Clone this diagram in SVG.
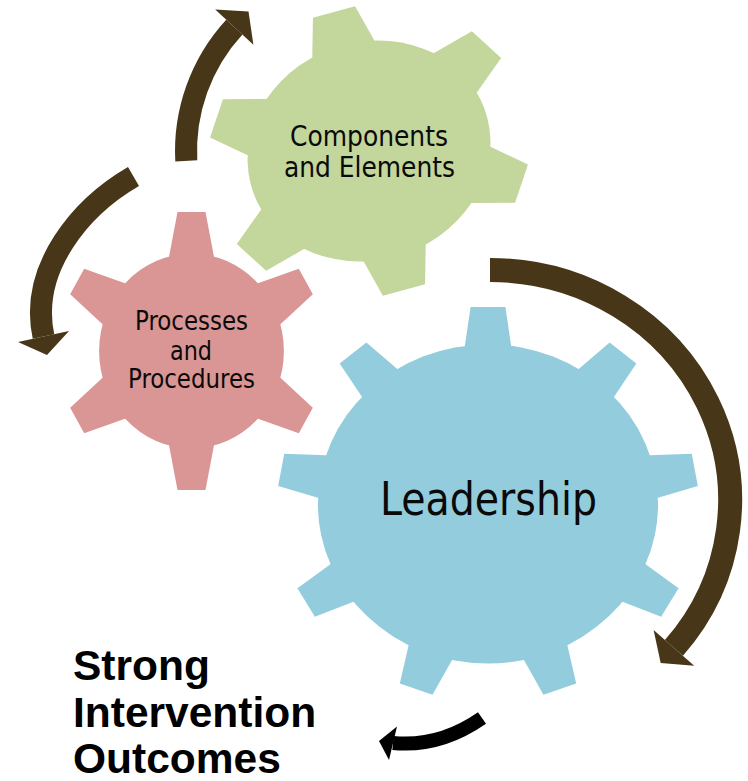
<svg xmlns="http://www.w3.org/2000/svg" xmlns:xlink="http://www.w3.org/1999/xlink" width="748" height="781" viewBox="0 0 748 781">
<style>
.lbl{font-family:"DejaVu Sans Condensed","DejaVu Sans",sans-serif;fill:#0a0a0a;text-anchor:middle}
.out{font-family:"Liberation Sans",Arial,sans-serif;font-weight:bold;font-size:42.5px;fill:#000}
.shaft{fill:none;stroke:#473618;stroke-linecap:butt}
.head{fill:#473618}
</style>
<defs>
<polygon id="toothG" points="-20,-60 20,-60 20,-73 13.5,-100 -13.5,-100 -20,-73"/>
<polygon id="toothP" points="-17,-55 17,-55 17,-68 10.6,-100 -10.6,-100 -17,-68"/>
<polygon id="toothB" points="-11,-70 11,-70 11,-80.3 8.3,-100 -8.3,-100 -11,-80.3"/>
</defs>
<rect width="748" height="781" fill="#fff"/>

<g id="gear-components">
<g transform="matrix(1.559,-0.427,0.35,1.39,369,151)" fill="#C3D69B">
<circle r="76"/>
<use xlink:href="#toothG"/>
<use xlink:href="#toothG" transform="rotate(60)"/>
<use xlink:href="#toothG" transform="rotate(120)"/>
<use xlink:href="#toothG" transform="rotate(180)"/>
<use xlink:href="#toothG" transform="rotate(240)"/>
<use xlink:href="#toothG" transform="rotate(300)"/>
</g>
<text class="lbl" font-size="28" x="369" y="146" textLength="158" lengthAdjust="spacingAndGlyphs">Components</text>
<text class="lbl" font-size="28" x="369.5" y="177" textLength="171" lengthAdjust="spacingAndGlyphs">and Elements</text>
</g>

<g id="gear-processes">
<g transform="translate(191.5,351) scale(1.32,1.39)" fill="#D99694">
<circle r="70"/>
<use xlink:href="#toothP"/>
<use xlink:href="#toothP" transform="rotate(60)"/>
<use xlink:href="#toothP" transform="rotate(120)"/>
<use xlink:href="#toothP" transform="rotate(180)"/>
<use xlink:href="#toothP" transform="rotate(240)"/>
<use xlink:href="#toothP" transform="rotate(300)"/>
</g>
<text class="lbl" font-size="26" x="191.5" y="330" textLength="113" lengthAdjust="spacingAndGlyphs">Processes</text>
<text class="lbl" font-size="26" x="191" y="360" textLength="42" lengthAdjust="spacingAndGlyphs">and</text>
<text class="lbl" font-size="26" x="191.5" y="388" textLength="127" lengthAdjust="spacingAndGlyphs">Procedures</text>
</g>

<g id="gear-leadership">
<g transform="translate(488,504) scale(2.1,1.97)" fill="#93CDDD">
<circle r="81"/>
<use xlink:href="#toothB"/>
<use xlink:href="#toothB" transform="rotate(40)"/>
<use xlink:href="#toothB" transform="rotate(80)"/>
<use xlink:href="#toothB" transform="rotate(120)"/>
<use xlink:href="#toothB" transform="rotate(160)"/>
<use xlink:href="#toothB" transform="rotate(200)"/>
<use xlink:href="#toothB" transform="rotate(240)"/>
<use xlink:href="#toothB" transform="rotate(280)"/>
<use xlink:href="#toothB" transform="rotate(320)"/>
</g>
<text class="lbl" font-size="47" x="488.5" y="515" textLength="217" lengthAdjust="spacingAndGlyphs">Leadership</text>
</g>

<g id="outcomes">
<text class="out" x="73" y="680">Strong</text>
<text class="out" x="73" y="727">Intervention</text>
<text class="out" x="73" y="773">Outcomes</text>
</g>

<g id="connectors">
<path class="shaft" stroke-width="22" d="M186.3,160.9 A183,183 0 0,1 234.3,27.1"/>
<polygon class="head" points="215.2,9.5 248.5,11.6 253.4,44.7"/>
<path class="shaft" stroke-width="22" d="M133.5,176.5 C81.6,206.5 28.8,267.9 43.5,336.5"/>
<polygon class="head" points="18,342 47,355 69,331"/>
<path class="shaft" stroke-width="24" d="M490,270 A240,230 0 0,1 673.9,647.9"/>
<polygon class="head" points="653.6,630.1 660.7,663 694.2,665.7"/>
<path fill="none" stroke="#000" stroke-width="14" d="M482,718 Q439.4,747.6 393,743"/>
<polygon fill="#000" points="397,726.5 379,741 389,760"/>
</g>
</svg>
